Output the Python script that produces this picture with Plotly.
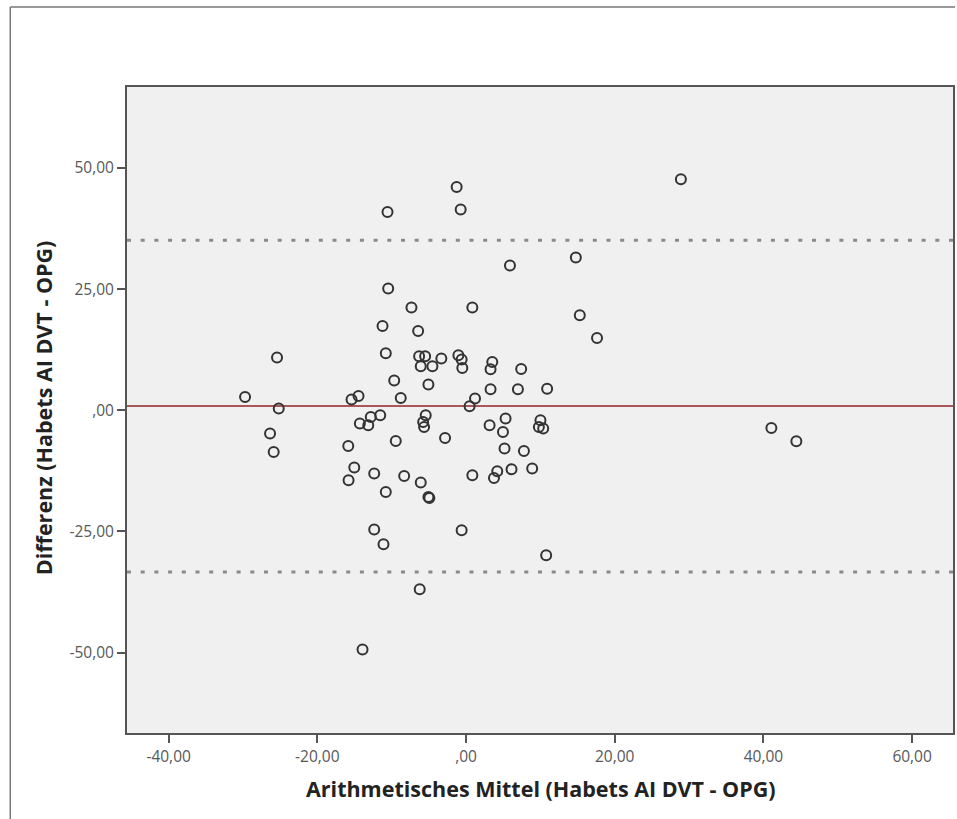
import plotly.graph_objects as go

# Bland-Altman data: mean (x) and difference (y)
mean_vals = [-1.26, -0.72, -10.56, 5.91, -10.47, -7.34, 0.85, -11.23, -6.44, -25.42,
             -10.79, -6.31, -5.50, -3.32, -6.09, -4.52, -1.03, -0.59, -0.50, 3.53,
             3.30, 7.42, -9.66, -5.06, 3.30, 6.98, 10.91, -29.72, -15.40, -14.46,
             -8.78, 1.21, 0.48, -25.19, -11.54, -12.81, -14.28, -13.15, -5.42, -5.77,
             -5.64, 5.32, 3.17, 4.97, 10.01, 9.80, 10.38, -26.36, -25.87, -15.84,
             -9.45, -2.82, 5.18, 7.79, -15.03, -15.80, -12.35, -8.32, -6.09, -10.79,
             -5.06, -4.93, 0.85, 3.76, 4.20, 6.12, 8.90, -12.35, -11.10, -0.59,
             10.78, -6.23, -13.92, 28.90, 14.77, 15.30, 17.62, 41.07, 44.43]
diff_vals = [46.08, 41.42, 40.92, 29.86, 25.11, 21.19, 21.19, 17.40, 16.36, 10.87,
             11.76, 11.14, 11.14, 10.67, 9.08, 9.08, 11.35, 10.46, 8.73, 9.97,
             8.46, 8.52, 6.13, 5.30, 4.33, 4.33, 4.44, 2.74, 2.21, 2.95,
             2.54, 2.41, 0.83, 0.35, -1.03, -1.38, -2.74, -3.10, -1.03, -2.41,
             -3.45, -1.71, -3.10, -4.48, -2.06, -3.45, -3.78, -4.81, -8.61, -7.37,
             -6.34, -5.72, -7.90, -8.40, -11.82, -14.44, -13.06, -13.56, -14.92, -16.86,
             -17.89, -18.10, -13.41, -13.97, -12.59, -12.18, -12.03, -24.62, -27.65, -24.76,
             -29.92, -36.94, -49.38, 47.67, 31.51, 19.60, 14.92, -3.65, -6.40]

mean_diff = 0.85
upper_loa = 35.08
lower_loa = -33.37

x_tickvals = [-40, -20, 0, 20, 40, 60]
x_ticktext = ["-40,00", "-20,00", ",00", "20,00", "40,00", "60,00"]
y_tickvals = [-50, -25, 0, 25, 50]
y_ticktext = ["-50,00", "-25,00", ",00", "25,00", "50,00"]

x_title = "Arithmetisches Mittel (Habets AI DVT - OPG)"
y_title = "Differenz (Habets AI DVT - OPG)"

W, H = 957, 819
L, R, T, B = 127, 2, 87, 86
PW, PH = W - L - R, H - T - B

fig = go.Figure()

for yv, col, dash, w in [(mean_diff, "#a85858", "solid", 2),
                         (upper_loa, "#8a8a8a", "4px,9.7px", 3),
                         (lower_loa, "#8a8a8a", "4px,9.7px", 3)]:
    fig.add_shape(type="line", xref="paper", x0=0, x1=1, yref="y", y0=yv, y1=yv,
                  line=dict(color=col, width=w, dash=dash), layer="below")

fig.add_trace(go.Scatter(
    x=mean_vals, y=diff_vals, mode="markers",
    marker=dict(symbol="circle-open", size=10, color="#333333",
                line=dict(width=2, color="#333333")),
    showlegend=False, hoverinfo="skip"))

axis_common = dict(showline=True, linecolor="#555555", linewidth=2, mirror=True,
                   ticks="outside", ticklen=8, tickwidth=2, tickcolor="#555555",
                   showgrid=False, zeroline=False,
                   tickfont=dict(family="Open Sans", size=15.5, color="#585858"))

fig.update_layout(
    width=W, height=H,
    margin=dict(l=L, r=R, t=T, b=B),
    paper_bgcolor="white", plot_bgcolor="#f0f0f0",
    xaxis=dict(range=[-45.6, 65.5], tickvals=x_tickvals, ticktext=x_ticktext, **axis_common),
    yaxis=dict(range=[-66.6, 66.7], tickvals=y_tickvals, ticktext=y_ticktext, **axis_common),
)

fig.add_annotation(text=x_title, xref="paper", yref="paper",
                   x=(542 - L) / PW, y=(H - B - 788) / PH,
                   showarrow=False, xanchor="center", yanchor="middle",
                   font=dict(family="Open Sans", size=21.5, color="#222222", weight="bold"))
fig.add_annotation(text=y_title, xref="paper", yref="paper",
                   x=(43 - L) / PW, y=(H - B - 408) / PH, textangle=-90,
                   showarrow=False, xanchor="center", yanchor="middle",
                   font=dict(family="Open Sans", size=21.5, color="#222222", weight="bold"))

# outer frame lines (top and left)
fig.add_shape(type="line", xref="paper", yref="paper",
              x0=(10 - L) / PW, x1=(W - L) / PW,
              y0=(H - B - 7) / PH, y1=(H - B - 7) / PH,
              line=dict(color="#777777", width=1.5))
fig.add_shape(type="line", xref="paper", yref="paper",
              x0=(10 - L) / PW, x1=(10 - L) / PW,
              y0=(H - B - 7) / PH, y1=(H - B - H) / PH,
              line=dict(color="#777777", width=1.5))

fig.write_html("out.html", config={"displayModeBar": False},
               post_script="document.body.style.margin='0';document.body.style.overflow='hidden';")
